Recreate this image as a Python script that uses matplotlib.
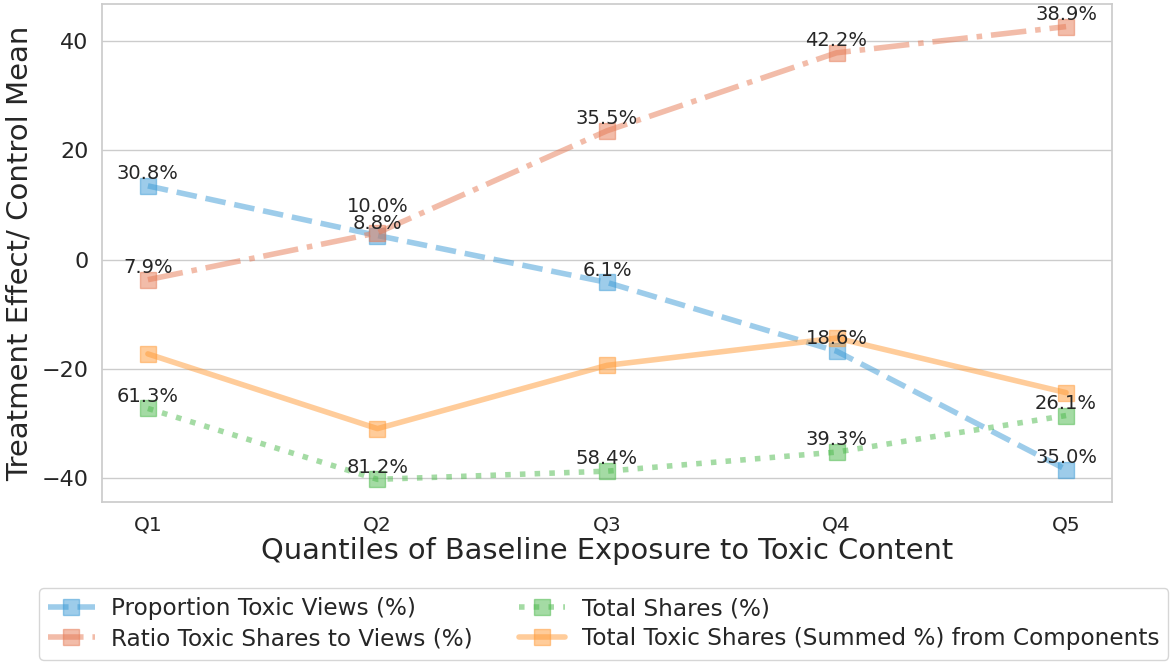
import matplotlib
matplotlib.use("Agg")
import matplotlib.pyplot as plt
import seaborn as sns

sns.set_theme(style="whitegrid")
plt.rcParams['font.family'] = ['DejaVu Sans']

quantiles = ["Q1", "Q2", "Q3", "Q4", "Q5"]

prop_toxic_views = [13.5, 4.4, -4.2, -16.8, -38.5]
ratio_shares_views = [-3.7, 4.9, 23.6, 37.9, 42.7]
total_shares = [-27.3, -40.3, -38.8, -35.3, -28.6]
total_toxic_shares = [-17.3, -31.0, -19.4, -14.4, -24.4]

# control-mean percentages shown above the points
prop_labels = ["30.8%", "8.8%", "6.1%", "18.6%", "35.0%"]
ratio_labels = ["7.9%", "10.0%", "35.5%", "42.2%", "38.9%"]
shares_labels = ["61.3%", "81.2%", "58.4%", "39.3%", "26.1%"]

series = [
    ("Proportion Toxic Views (%)", prop_toxic_views, prop_labels, "#3c9bd6", "--"),
    ("Ratio Toxic Shares to Views (%)", ratio_shares_views, ratio_labels, "#e67a55", "-."),
    ("Total Shares (%)", total_shares, shares_labels, "#4bb94b", ":"),
    ("Total Toxic Shares (Summed %) from Components", total_toxic_shares, None, "#ff9b37", "-"),
]

fig = plt.figure(figsize=(11.71, 6.62), dpi=100)
ax = fig.add_axes([0.0871, 0.2417, 0.8625, 0.7523])

x = list(range(len(quantiles)))
handles = []
for name, vals, labels, color, ls in series:
    h, = ax.plot(x, vals, linestyle=ls, color=color, lw=4, alpha=0.5,
                 marker="s", markersize=11, label=name)
    handles.append(h)
    if labels is not None:
        for xi, yi, lab in zip(x, vals, labels):
            # push the red Q2 label up so it clears the blue one
            dy = 12 if lab == "10.0%" else 2
            ax.annotate(lab, (xi, yi), xytext=(0, dy), textcoords="offset points",
                        ha="center", va="bottom", fontsize=14, color="#262626")

ax.set_xticks(x)
ax.set_xticklabels(quantiles, fontsize=14.5)
ax.tick_params(axis="y", labelsize=16)
ax.set_yticks([-40, -20, 0, 20, 40])
ax.grid(axis="x", visible=False)
ax.set_xlabel("Quantiles of Baseline Exposure to Toxic Content", fontsize=20.8, labelpad=2)
ax.set_ylabel("Treatment Effect/ Control Mean", fontsize=21, labelpad=6)

fig.legend(handles=handles, loc="upper left", bbox_to_anchor=(0.0333, 0.1118),
           borderaxespad=0, ncol=2, fontsize=16.7, labelspacing=0.3,
           handletextpad=0.7, frameon=True)

fig.savefig("out.png", dpi=100)
